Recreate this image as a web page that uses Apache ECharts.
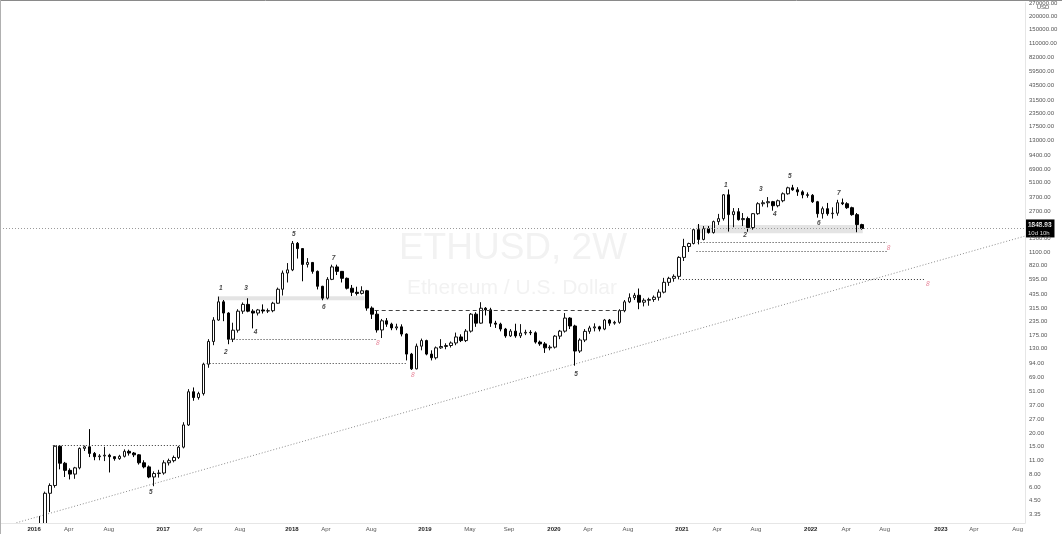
<!DOCTYPE html>
<html><head><meta charset="utf-8">
<script src="https://cdn.jsdelivr.net/npm/echarts@6/dist/echarts.min.js"></script>
<style>html,body{margin:0;padding:0;background:#fff}#c{width:1062px;height:534px}</style>
</head><body><div id="c"></div>
<script>
// ---- data (2-week candles: [open, close, low, high]) ----
const firstBarDate = '2016-01-04';
const barStepDays = 14;
const candles2016 = [
 [0.95,1.2,0.93,1.3],[1.2,2.4,1.1,3.2],[2.4,5.3,2.3,5.5],[5.3,6.3,3.5,6.6],[6.3,15.0,6.0,15.3],
 [15.0,10.3,9.0,15.3],[10.3,8.8,7.6,10.6],[8.8,8.1,7.2,9.2],[8.1,9.3,7.3,9.5],[9.3,14.3,9.0,14.6],
 [14.3,14.8,13.5,15.2],[14.8,12.8,11.8,21.9],[12.8,11.9,11.0,13.2],[11.9,12.1,11.0,12.6],[12.1,12.3,10.8,14.8],
 [12.3,11.9,8.4,12.7],[11.9,11.4,10.9,12.0],[11.4,12.0,11.1,12.4],[12.0,13.4,11.7,14.0],[13.4,12.9,12.2,13.9],
 [12.9,12.4,11.8,13.2],[12.4,10.4,10.0,12.6],[10.4,9.5,9.2,11.0],[9.5,7.6,7.4,9.8],[7.6,8.2,6.2,8.6],
 [8.2,8.3,7.5,8.9]
];
const candles2017 = [
 [8.3,10.4,8.0,11.0],[10.4,10.9,9.8,11.4],[10.9,11.7,10.5,12.2],[11.7,14.7,11.3,15.1],[14.7,24.0,14.3,25.5],
 [24.0,50.0,23.5,53.0],[50.0,44.0,41.0,55.0],[44.0,48.0,42.0,50.0],[48,92,46,95],[92,152,85,160],
 [152,244,140,260],[244,365,240,410],[365,285,238,380],[285,160,143,290],[160,195,150,230],
 [195,297,185,310],[297,345,280,360],[345,297,290,395],[297,285,203,310],[285,305,270,312],
 [305,298,282,345],[298,300,285,315],[300,354,290,365],[354,482,350,500],[482,690,420,730],
 [690,740,560,860]
];
const candles2018 = [
 [740,1330,720,1400],[1330,1185,950,1370],[1185,835,575,1190],[835,872,780,960],[872,716,680,880],
 [716,515,480,730],[515,396,378,520],[396,600,385,630],[600,790,590,830],[790,716,660,830],
 [716,614,560,720],[614,493,480,625],[493,451,415,530],[451,440,420,510],[440,466,430,515],
 [466,318,300,475],[318,278,250,330],[278,196,185,300],[196,240,164,250],[240,223,210,255],
 [223,205,195,230],[205,210,195,225],[210,179,170,222],[179,115,100,182],[115,83,81,118],
 [83,137,82,145],[137,155,125,162]
];
const candles2019 = [
 [155,115,112,158],[115,106,100,125],[106,132,102,136],[132,136,129,160],[136,139,128,146],
 [139,147,133,152],[147,168,140,185],[168,155,150,178],[155,191,150,200],[191,278,185,285],
 [278,228,210,290],[228,317,225,362],[317,306,270,325],[306,228,210,320],[228,223,205,240],
 [223,200,190,230],[200,172,165,205],[172,191,168,200],[191,172,165,225],[172,183,164,223],
 [183,186,175,197],[186,184,175,195],[184,150,145,190],[150,144,138,155],[144,132,118,150],
 [132,134,125,140]
];
const candles2020 = [
 [134,171,130,175],[171,191,160,196],[191,255,185,285],[255,214,200,260],[214,123,89,220],
 [123,157,118,163],[157,190,150,200],[190,205,180,215],[205,210,190,227],[210,200,190,215],
 [200,244,195,250],[244,228,215,250],[228,232,220,240],[232,300,225,310],[300,365,290,380],
 [365,400,355,440],[400,422,380,445],[422,362,310,490],[362,378,330,395],[378,385,335,400],
 [385,404,365,420],[404,452,375,480],[452,562,440,620],[562,614,520,635],[614,641,570,670],
 [641,975,600,1000]
];
const candles2021 = [
 [975,1240,900,1470],[1240,1325,1100,1350],[1325,1800,1300,1860],[1800,1450,1300,2040],[1450,1840,1420,1950],
 [1840,1688,1650,1950],[1688,2150,1650,2200],[2150,2297,2000,2550],[2297,3890,2200,3950],[3890,2510,1726,4380],
 [2510,2678,1900,2900],[2678,2247,2200,2900],[2247,2300,1950,2600],[2300,1884,1720,2400],[1884,2563,1800,2600],
 [2563,3193,2500,3300],[3193,3264,3000,3450],[3264,3340,2950,3700],[3340,3056,2738,3400],[3056,3411,2950,3500],
 [3411,3979,3300,4100],[3979,4540,3900,4650],[4540,4345,4250,4849],[4345,4150,3800,4600],[4150,3890,3600,4300],
 [3890,3850,3650,4100]
];
const candles2022 = [
 [3850,3338,3250,3950],[3338,2563,2348,3400],[2563,2861,2300,3000],[2861,2563,2450,3250],[2563,2590,2300,2950],
 [2590,3264,2450,3480],[3264,3193,3100,3580],[3193,2925,2850,3300],[2925,2508,2450,2990],[2508,2013,1700,2600],
 [2013,1849,1800,2050]
];
const lastPrice = 1848.93;
const countdownText = '10d 10h';

// axes
const xRange = ['2015-09-26T14:24:00Z', '2023-09-02T16:48:00Z'];
const yRange = [2.748, 271700];
const yTickValues = [3.35,4.5,6,8,11,15,20,27,37,51,69,94,130,175,235,315,435,595,820,1100,1500,2000,2700,3700,5100,6900,9400,13000,17500,23500,31500,43500,59500,82000,110000,150000,200000,270000];
const xTickDates = ['2016-01-01','2016-04-08','2016-07-30','2016-12-31','2017-04-08','2017-08-05','2017-12-30','2018-04-05','2018-08-11','2019-01-10','2019-05-17','2019-09-05','2020-01-10','2020-04-15','2020-08-06','2021-01-06','2021-04-15','2021-08-03','2022-01-05','2022-04-15','2022-08-02','2023-01-08','2023-04-11','2023-08-13'];
const xTickTexts = ['2016','Apr','Aug','2017','Apr','Aug','2018','Apr','Aug','2019','May','Sep','2020','Apr','Aug','2021','Apr','Aug','2022','Apr','Aug','2023','Apr','Aug'];

// drawings
const trendLinePoints = [['2015-11-12', 2.76], ['2023-09-01', 1556]];
const dottedLevels = [
 ['2016-02-23','2017-02-16',15.3],
 ['2017-07-01','2018-08-26',160.6],
 ['2017-05-03','2018-11-22',94.7],
 ['2021-02-19','2022-08-08',1354],
 ['2021-02-16','2022-08-08',1111],
 ['2020-12-31','2022-11-26',600]
];
const dashedLevels = [['2018-08-21','2020-07-28',304]];
const zoneBands = [['2017-06-03','2018-07-23',378,413], ['2021-02-16','2022-06-01',1660,1990]];
const waveLabels = [
 ['2016-11-26',5.43,'5'],['2017-06-12',493,'1'],['2017-06-26',120.6,'2'],['2017-08-22',493,'3'],
 ['2017-09-18',187,'4'],['2018-01-04',1615,'5'],['2018-03-30',324.5,'6'],['2018-04-27',953,'7'],
 ['2020-03-12',74.4,'5'],['2021-05-10',4849,'1'],['2021-07-03',1580,'2'],['2021-08-17',4441,'3'],
 ['2021-09-25',2508,'4'],['2021-11-07',5911,'5'],['2022-01-28',2057,'6'],['2022-03-25',4067,'7']
];
const targetLabels = [['2018-08-30',147.1,'8'],['2018-12-07',72.75,'8'],['2022-08-13',1187,'8'],['2022-12-02',538,'8']];

// ---- build ----
const T = s => Date.parse(s.length === 10 ? s + 'T00:00:00Z' : s);
const t0 = T(firstBarDate);
const allCandles = [].concat(candles2016, candles2017, candles2018, candles2019, candles2020, candles2021, candles2022);
const candleData = allCandles.map((b, i) => [t0 + i * barStepDays * 864e5, b[0], b[1], b[2], b[3]]);
const xTickTimes = xTickDates.map(T);
const xLabelMap = {};
xTickTimes.forEach((t, i) => { xLabelMap[t] = xTickTexts[i]; });

const FONT = '"Liberation Sans", Arial, sans-serif';
const markLines = [];
dottedLevels.forEach(l => markLines.push([
  {coord: [T(l[0]), l[2]], lineStyle: {type: [1, 2], color: '#333', width: 1}},
  {coord: [T(l[1]), l[2]]}
]));
dashedLevels.forEach(l => markLines.push([
  {coord: [T(l[0]), l[2]], lineStyle: {type: [4, 3], color: '#444', width: 1}},
  {coord: [T(l[1]), l[2]]}
]));
markLines.push({
  yAxis: lastPrice,
  lineStyle: {type: [1, 2], color: '#9a9a9a', width: 1},
  label: {
    show: true, position: 'end', distance: 0,
    formatter: '{p|' + lastPrice.toFixed(2) + '}\n{t|' + countdownText + '}',
    backgroundColor: '#000', padding: [2, 3, 1, 3],
    rich: {
      p: {color: '#fff', fontSize: 6.5, fontWeight: 'bold', fontFamily: FONT, lineHeight: 8},
      t: {color: '#ddd', fontSize: 6, fontFamily: FONT, lineHeight: 7}
    }
  }
});

const option = {
  animation: false,
  backgroundColor: '#ffffff',
  grid: {left: 0, right: 37, top: 0, bottom: 11},
  xAxis: {
    type: 'value', min: T(xRange[0]), max: T(xRange[1]), scale: true, z: 20,
    axisLine: {show: true, lineStyle: {color: '#e6e6e6'}},
    axisTick: {show: false}, splitLine: {show: false},
    axisLabel: {
      customValues: xTickTimes, margin: 3, hideOverlap: false,
      formatter: v => { const s = xLabelMap[v] || ''; return /^\d{4}$/.test(s) ? '{y|' + s + '}' : '{m|' + s + '}'; },
      rich: {
        y: {fontSize: 6, fontWeight: 'bold', color: '#222', fontFamily: FONT},
        m: {fontSize: 6, color: '#555', fontFamily: FONT}
      }
    }
  },
  yAxis: {
    type: 'log', logBase: 10, min: yRange[0], max: yRange[1], position: 'right', z: 20,
    axisLine: {show: true, lineStyle: {color: '#e6e6e6'}},
    axisTick: {show: false}, splitLine: {show: false},
    axisLabel: {
      customValues: yTickValues, margin: 4, hideOverlap: false,
      formatter: v => Number(v).toFixed(2),
      fontSize: 6, color: '#555', fontFamily: FONT
    }
  },
  graphic: [
    {type: 'text', silent: true, z: -10, style: {text: 'ETHUSD, 2W', x: 513, y: 249, align: 'center', verticalAlign: 'middle', fill: '#f2f2f2', font: '37px ' + FONT}},
    {type: 'text', silent: true, z: -10, style: {text: 'Ethereum / U.S. Dollar', x: 512, y: 288, align: 'center', verticalAlign: 'middle', fill: '#f2f2f2', font: '21px ' + FONT}},
    {type: 'rect', silent: true, z: 10, shape: {x: 0, y: 523.5, width: 1025, height: 11}, style: {fill: '#ffffff'}},
    {type: 'text', silent: true, z: 21, style: {text: 'USD', x: 1043, y: 7, align: 'center', verticalAlign: 'middle', fill: '#555', font: '6px ' + FONT}},
    {type: 'line', silent: true, z: 21, shape: {x1: 0, y1: 0.5, x2: 1062, y2: 0.5}, style: {stroke: '#8a8a8a', lineWidth: 1}},
    {type: 'line', silent: true, z: 21, shape: {x1: 0.5, y1: 0, x2: 0.5, y2: 534}, style: {stroke: '#b0b0b0', lineWidth: 1}}
  ],
  series: [
    {
      type: 'line', name: 'trend', data: trendLinePoints.map(p => [T(p[0]), p[1]]),
      symbol: 'none', silent: true, z: 1,
      lineStyle: {color: '#8c8c8c', width: 1, type: [1, 2]}
    },
    {
      type: 'candlestick', name: 'ETHUSD', data: candleData, clip: true,
      encode: {x: 0, y: [1, 2, 3, 4]},
      barWidth: 3,
      itemStyle: {color: '#ffffff', color0: '#000000', borderColor: '#111111', borderColor0: '#000000', borderWidth: 1},
      markArea: {
        silent: true,
        itemStyle: {color: '#e4e4e4'},
        data: zoneBands.map(z => [{coord: [T(z[0]), z[2]]}, {coord: [T(z[1]), z[3]]}])
      },
      markLine: {silent: true, symbol: ['none', 'none'], label: {show: false}, data: markLines},
      z: 3
    },
    {
      type: 'scatter', name: 'waves', data: waveLabels.map(w => [T(w[0]), w[1], w[2]]),
      symbolSize: 1, itemStyle: {color: 'rgba(0,0,0,0)'}, silent: true, z: 4,
      label: {show: true, position: 'inside', formatter: p => p.data[2], color: '#111', fontSize: 6.5, fontStyle: 'italic', fontWeight: 'bold', fontFamily: FONT}
    },
    {
      type: 'scatter', name: 'targets', data: targetLabels.map(w => [T(w[0]), w[1], w[2]]),
      symbolSize: 1, itemStyle: {color: 'rgba(0,0,0,0)'}, silent: true, z: 4,
      label: {show: true, position: 'inside', formatter: p => p.data[2], color: '#e0607a', fontSize: 6.5, fontStyle: 'italic', fontFamily: FONT}
    }
  ]
};
const chart = echarts.init(document.getElementById('c'), null, {renderer: 'canvas'});
chart.setOption(option);
</script>
</body></html>
